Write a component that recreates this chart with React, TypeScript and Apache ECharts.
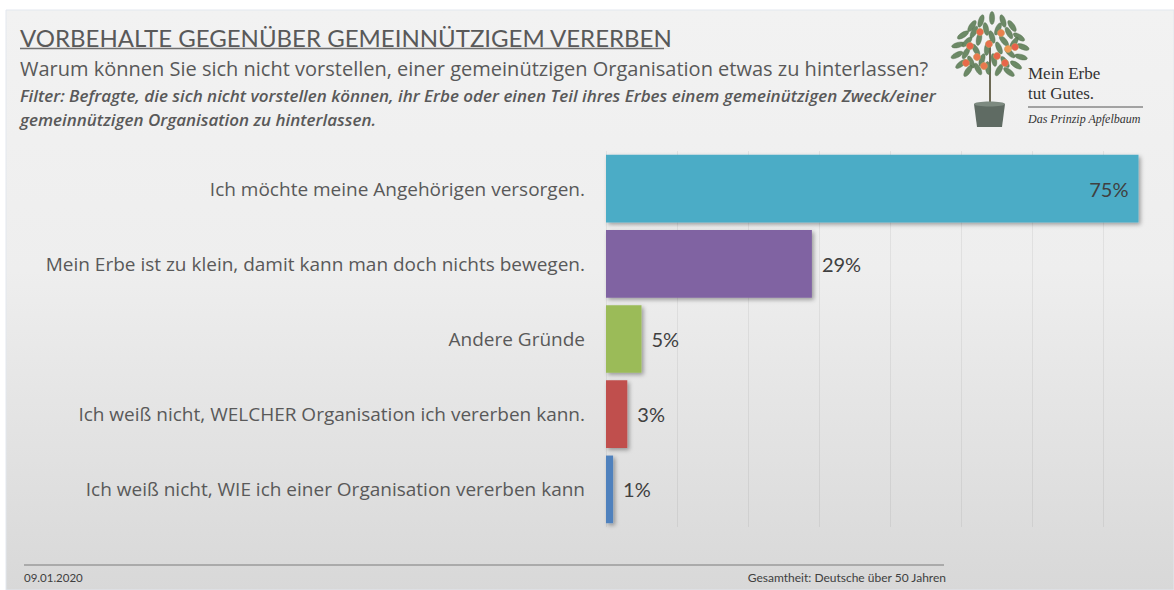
import React, { useEffect, useRef } from "react";
import * as echarts from "echarts";

const categories = [
  "Ich möchte meine Angehörigen versorgen.",
  "Mein Erbe ist zu klein, damit kann man doch nichts bewegen.",
  "Andere Gründe",
  "Ich weiß nicht, WELCHER Organisation ich vererben kann.",
  "Ich weiß nicht, WIE ich einer Organisation vererben kann",
];
const values = [75, 29, 5, 3, 1];
const barColors = ["#4bacc6", "#8064a2", "#9bbb59", "#c0504d", "#4f81bd"];

const titleText = "VORBEHALTE GEGENÜBER GEMEINNÜTZIGEM VERERBEN";
const subtitleText =
  "Warum können Sie sich nicht vorstellen, einer gemeinützigen Organisation etwas zu hinterlassen?";
const filterLine1 =
  "Filter: Befragte, die sich nicht vorstellen können, ihr Erbe oder einen Teil ihres Erbes einem gemeinützigen Zweck/einer";
const filterLine2 = "gemeinnützigen Organisation zu hinterlassen.";
const dateText = "09.01.2020";
const baseText = "Gesamtheit: Deutsche über 50 Jahren";

const FONT = "Lato, 'Open Sans', sans-serif";
const WIDE = "'Open Sans', Lato, sans-serif";
const SERIF = "'Liberation Serif', 'DejaVu Serif', serif";

function treeGraphics() {
  const els: any[] = [];
  els.push({
    type: "line",
    shape: { x1: 990, y1: 40, x2: 990, y2: 104 },
    style: { stroke: "#6d6a55", lineWidth: 2 },
    z: 10,
  });
  const leaves = [
    [972, 26, -0.6], [981, 21, -0.3], [992, 18, 0], [1003, 21, 0.3], [1012, 26, 0.6],
    [963, 35, -1.0], [974, 32, -0.5], [986, 29, 0.2], [998, 29, -0.4], [1009, 33, 0.5], [1019, 37, 1.0],
    [958, 45, -1.3], [967, 42, -0.8], [979, 39, -0.2], [992, 37, 0.3], [1004, 41, 0.7], [1014, 43, -0.6], [1023, 47, 1.2],
    [957, 55, -1.1], [966, 53, -0.5], [976, 50, 0.5], [987, 49, -0.1], [999, 48, 0.4], [1010, 53, 0.8], [1021, 57, 1.3],
    [961, 64, -0.9], [971, 62, 0.4], [982, 60, -0.3], [994, 60, 0.2], [1005, 62, 0.6], [1016, 65, 1.0],
    [968, 71, -0.6], [978, 69, 0.5], [988, 68, 0.1], [999, 70, -0.5], [1009, 72, 0.9],
  ];
  leaves.forEach(([x, y, r]) => {
    els.push({
      type: "ellipse",
      x,
      y,
      rotation: r as number,
      shape: { cx: 0, cy: 0, rx: 2.6, ry: 6.5 },
      style: { fill: "#61805a", stroke: "#4e6a49", lineWidth: 0.4, opacity: 0.92 },
      z: 11,
    });
  });
  const apples = [
    [980, 32, "#e86a4a"], [1001, 33, "#e9804e"], [970, 46, "#e8654a"], [989, 44, "#e9704c"],
    [1015, 47, "#e8604a"], [977, 57, "#e97a4e"], [997, 56, "#e8664a"], [966, 63, "#e86a4a"],
    [984, 66, "#e9784e"], [1005, 63, "#e8654a"], [1008, 49, "#f09a55"],
  ];
  apples.forEach(([x, y, c]) => {
    els.push({
      type: "circle",
      shape: { cx: x, cy: y, r: 3.6 },
      style: { fill: c, stroke: "#c9a060", lineWidth: 0.5 },
      z: 12,
    });
  });
  els.push({
    type: "polygon",
    shape: { points: [[974, 104], [1005, 104], [1002, 127], [977, 127]] },
    style: { fill: "#5f6b63" },
    z: 10,
  });
  els.push({
    type: "ellipse",
    shape: { cx: 989.5, cy: 104, rx: 15.5, ry: 2.5 },
    style: { fill: "#7d8a80" },
    z: 11,
  });
  return els;
}

export default function App() {
  const ref = useRef<HTMLDivElement>(null);
  useEffect(() => {
    document.body.style.margin = "0";
    const chart = echarts.init(ref.current!, null, { renderer: "svg" });
    const option: any = {
      animation: false,
      backgroundColor: "#ffffff",
      graphic: [
        {
          type: "rect",
          shape: { x: 6, y: 10, width: 1168, height: 580 },
          style: {
            fill: new echarts.graphic.LinearGradient(0, 0, 0, 1, [
              { offset: 0, color: "#f2f2f2" },
              { offset: 0.45, color: "#eeeeee" },
              { offset: 1, color: "#d8d8d8" },
            ]),
            stroke: "#e2e7ee",
            lineWidth: 1,
          },
          z: -10,
          silent: true,
        },
        {
          type: "text",
          x: 20,
          y: 37,
          style: {
            text: titleText,
            font: `400 24px ${FONT}`,
            fill: "#595959",
            textVerticalAlign: "middle",
          },
        },
        {
          type: "line",
          shape: { x1: 20, y1: 48.5, x2: 664, y2: 48.5 },
          style: { stroke: "#707070", lineWidth: 1.5 },
        },
        {
          type: "text",
          x: 20,
          y: 68,
          style: {
            text: subtitleText,
            font: `400 20px ${WIDE}`,
            fill: "#595959",
            textVerticalAlign: "middle",
          },
        },
        {
          type: "text",
          x: 20,
          y: 95,
          style: {
            text: filterLine1,
            font: `italic 600 17px ${WIDE}`,
            fill: "#595959",
            textVerticalAlign: "middle",
          },
        },
        {
          type: "text",
          x: 20,
          y: 119,
          style: {
            text: filterLine2,
            font: `italic 600 17px ${WIDE}`,
            fill: "#595959",
            textVerticalAlign: "middle",
          },
        },
        ...treeGraphics(),
        {
          type: "text",
          x: 1028,
          y: 73,
          style: {
            text: "Mein Erbe",
            font: `400 17px ${SERIF}`,
            fill: "#333333",
            textVerticalAlign: "middle",
          },
        },
        {
          type: "text",
          x: 1028,
          y: 93,
          style: {
            text: "tut Gutes.",
            font: `400 17px ${SERIF}`,
            fill: "#333333",
            textVerticalAlign: "middle",
          },
        },
        {
          type: "line",
          shape: { x1: 1028, y1: 107, x2: 1143, y2: 107 },
          style: { stroke: "#555555", lineWidth: 1 },
        },
        {
          type: "text",
          x: 1028,
          y: 119,
          style: {
            text: "Das Prinzip Apfelbaum",
            font: `italic 400 12px ${SERIF}`,
            fill: "#333333",
            textVerticalAlign: "middle",
          },
        },
        {
          type: "line",
          shape: { x1: 24, y1: 565, x2: 944, y2: 565 },
          style: { stroke: "#9a9a9a", lineWidth: 1.5 },
        },
        {
          type: "text",
          x: 24,
          y: 577,
          style: {
            text: dateText,
            font: `400 11.5px ${FONT}`,
            fill: "#404040",
            textVerticalAlign: "middle",
          },
        },
        {
          type: "text",
          x: 946,
          y: 577,
          style: {
            text: baseText,
            font: `400 12px ${FONT}`,
            fill: "#404040",
            textAlign: "right",
            textVerticalAlign: "middle",
          },
        },
      ],
      grid: { left: 606, right: 0, top: 151, height: 376, containLabel: false },
      xAxis: {
        type: "value",
        min: 0,
        max: 80,
        interval: 10,
        axisLabel: { show: false },
        axisLine: { show: false },
        axisTick: { show: false },
        splitLine: { show: true, lineStyle: { color: "rgba(0,0,0,0.06)", width: 1 } },
      },
      yAxis: {
        type: "category",
        inverse: true,
        data: categories,
        axisLine: { show: false },
        axisTick: { show: false },
        axisLabel: {
          margin: 21,
          fontSize: 19,
          fontFamily: WIDE,
          color: "#595959",
        },
      },
      series: [
        {
          type: "bar",
          barCategoryGap: "10%",
          data: values.map((v, i) => ({
            value: v,
            itemStyle: { color: barColors[i] },
            label: i === 0 ? { position: "insideRight" } : { position: "right" },
          })),
          itemStyle: {
            shadowColor: "rgba(0,0,0,0.35)",
            shadowBlur: 4,
            shadowOffsetX: 2,
            shadowOffsetY: 2,
          },
          label: {
            show: true,
            distance: 10,
            formatter: "{c}%",
            fontSize: 20,
            fontFamily: FONT,
            color: "#404040",
          },
        },
      ],
    };
    chart.setOption(option);
    return () => chart.dispose();
  }, []);
  return <div ref={ref} style={{ width: 1174, height: 590 }} />;
}
